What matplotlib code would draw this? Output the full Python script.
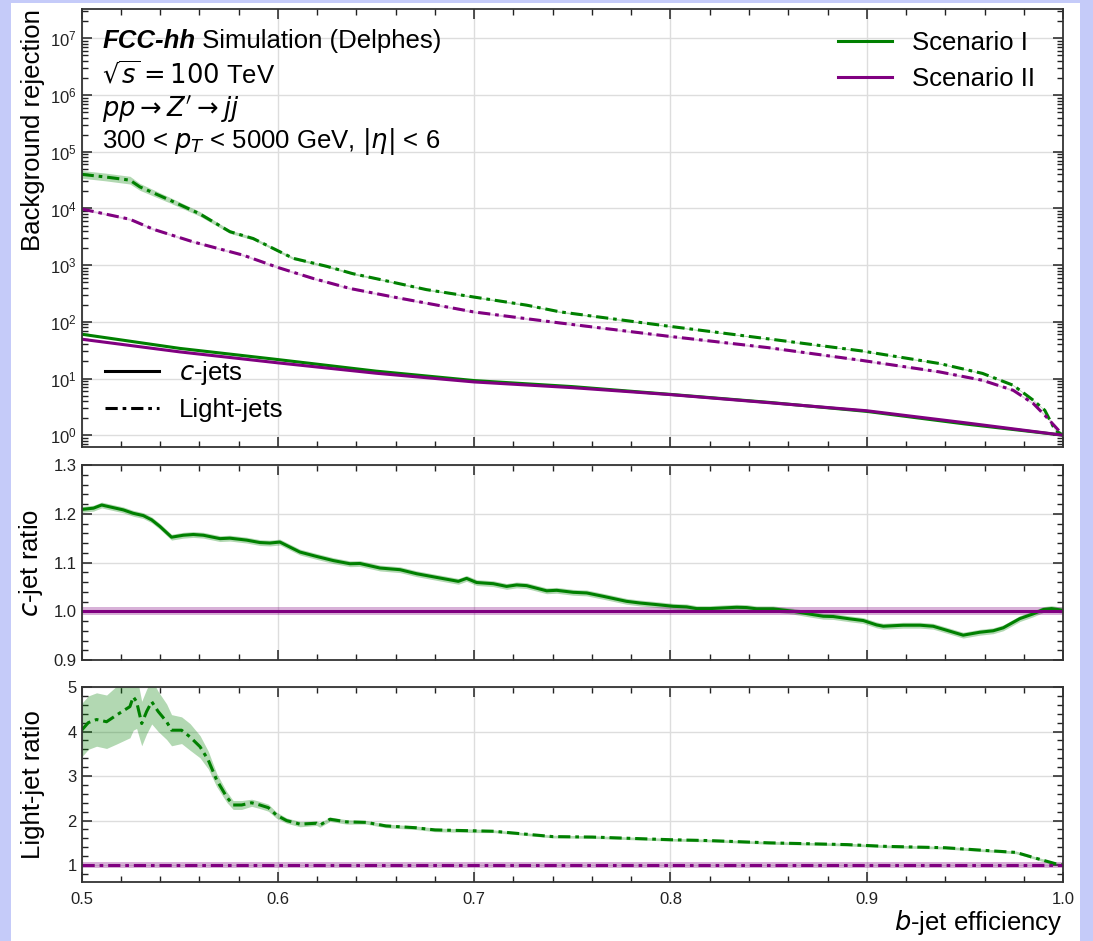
import matplotlib
matplotlib.use("Agg")
import matplotlib.pyplot as plt
import numpy as np
from matplotlib.ticker import MultipleLocator, LogLocator, NullFormatter
from matplotlib.patches import Rectangle
from matplotlib.lines import Line2D

plt.rcParams["font.family"] = ["Liberation Sans", "DejaVu Sans"]
plt.rcParams["mathtext.fontset"] = "dejavusans"

# ── Data ──────────────────────────────────────────────────────────────────────
# light-jet rejection, Scenario I (green) / Scenario II (purple)
eff_l1 = [0.500, 0.512, 0.5246, 0.5297, 0.545, 0.560, 0.5755, 0.5874, 0.596,
          0.6078, 0.6248, 0.638, 0.6535, 0.6757, 0.6995, 0.7267, 0.7437, 0.7988,
          0.850, 0.897, 0.937, 0.959, 0.9746, 0.9848, 0.9907, 0.996, 1.0]
rej_l1 = [40000, 36000, 31600, 24000, 14000, 8100, 3900, 2950, 2100,
          1320, 955, 710, 545, 370, 275, 197, 150, 84,
          50, 30.8, 18.4, 12.3, 7.6, 4.15, 2.75, 1.22, 1.0]
rel_l1 = [0.17, 0.17, 0.17, 0.15, 0.12, 0.10, 0.07, 0.06, 0.05,
          0.05, 0.04, 0.04, 0.03, 0.03, 0.03, 0.03, 0.03, 0.02,
          0.02, 0.02, 0.02, 0.02, 0.02, 0.02, 0.02, 0.02, 0.02]

eff_l2 = [0.500, 0.5246, 0.5365, 0.5569, 0.5823, 0.600, 0.618, 0.6367, 0.6587,
          0.6995, 0.7437, 0.7988, 0.850, 0.897, 0.937, 0.959, 0.9746, 0.9848,
          0.9907, 1.0]
rej_l2 = [9800, 6450, 4300, 2570, 1500, 910, 582, 388, 275,
          150, 95.5, 55.8, 35, 21, 13.1, 9.3, 6.2, 3.63,
          2.25, 1.0]

# c-jet rejection
eff_c = [0.50, 0.55, 0.60, 0.65, 0.70, 0.75, 0.80, 0.85, 0.90, 0.95, 1.00]
rej_c1 = [60.5, 34.0, 21.6, 13.5, 9.2, 7.2, 5.25, 3.8, 2.63, 1.58, 1.0]
rej_c2 = [49.4, 29.5, 18.9, 12.4, 8.7, 6.9, 5.2, 3.75, 2.7, 1.66, 1.0]

# c-jet ratio (Scenario I / Scenario II)
eff_cr = [0.500, 0.506, 0.5102, 0.516, 0.5212, 0.5263, 0.5314, 0.5357, 0.5399,
          0.5458, 0.5518, 0.5569, 0.562, 0.5705, 0.5755, 0.584, 0.5908, 0.5959,
          0.601, 0.6061, 0.6112, 0.6197, 0.6282, 0.6367, 0.6418, 0.652, 0.6622,
          0.6707, 0.6808, 0.6919, 0.6961, 0.7012, 0.7097, 0.7165, 0.7216, 0.7267,
          0.7369, 0.742, 0.7504, 0.7573, 0.7657, 0.7776, 0.7844, 0.7929, 0.8014,
          0.8082, 0.8133, 0.820, 0.8337, 0.8388, 0.8439, 0.8523, 0.8625, 0.8693,
          0.8778, 0.8829, 0.8914, 0.8982, 0.905, 0.9084, 0.9186, 0.9271, 0.9338,
          0.9491, 0.9576, 0.9644, 0.9695, 0.978, 0.9848, 0.9899, 0.9941, 1.0]
cratio1 = [1.209, 1.2115, 1.218, 1.2127, 1.208, 1.201, 1.1963, 1.1875, 1.174,
           1.152, 1.156, 1.1575, 1.156, 1.149, 1.150, 1.146, 1.141, 1.140,
           1.142, 1.1317, 1.1215, 1.1125, 1.104, 1.0975, 1.098, 1.0887, 1.0853,
           1.077, 1.0695, 1.0614, 1.0675, 1.059, 1.0566, 1.051, 1.054, 1.0526,
           1.042, 1.043, 1.0389, 1.0376, 1.0307, 1.0204, 1.017, 1.0137, 1.0102,
           1.009, 1.0055, 1.0055, 1.0082, 1.0076, 1.005, 1.005, 1.0, 0.9953,
           0.9898, 0.9892, 0.9844, 0.981, 0.972, 0.9693, 0.9714, 0.9714, 0.9693,
           0.951, 0.957, 0.960, 0.966, 0.985, 0.9947, 1.0035, 1.0055, 1.002]
cratio_err = 0.006
cratio2_err = 0.008

# light-jet ratio (Scenario I / Scenario II)
eff_lr = [0.500, 0.5034, 0.5076, 0.5127, 0.5178, 0.5246, 0.5263, 0.528, 0.5306,
          0.5331, 0.5357, 0.539, 0.5433, 0.5458, 0.5509, 0.5552, 0.5603, 0.5645,
          0.5688, 0.5739, 0.5772, 0.5815, 0.5866, 0.5908, 0.5951, 0.5993, 0.6044,
          0.6112, 0.6197, 0.6214, 0.6265, 0.635, 0.645, 0.655, 0.670, 0.680,
          0.700, 0.710, 0.720, 0.740, 0.760, 0.780, 0.800, 0.820, 0.850, 0.870,
          0.890, 0.910, 0.940, 0.960, 0.976, 0.9865, 0.997, 1.0]
lratio1 = [4.03, 4.20, 4.27, 4.22, 4.37, 4.56, 4.78, 4.67, 4.18,
           4.45, 4.67, 4.45, 4.22, 4.03, 4.03, 3.88, 3.66, 3.36,
           2.91, 2.53, 2.35, 2.35, 2.40, 2.35, 2.29, 2.12, 2.00,
           1.92, 1.94, 1.90, 2.03, 1.97, 1.96, 1.88, 1.84, 1.79,
           1.77, 1.76, 1.72, 1.64, 1.63, 1.60, 1.57, 1.55, 1.50, 1.48,
           1.46, 1.42, 1.39, 1.33, 1.285, 1.15, 1.02, 1.0]
lratio1_err = [0.60, 0.60, 0.60, 0.60, 0.65, 0.70, 0.75, 0.60, 0.50,
               0.50, 0.50, 0.45, 0.40, 0.35, 0.30, 0.30, 0.25, 0.20,
               0.15, 0.12, 0.10, 0.10, 0.08, 0.08, 0.08, 0.07, 0.06,
               0.06, 0.05, 0.05, 0.05, 0.05, 0.04, 0.04, 0.04, 0.04,
               0.04, 0.03, 0.03, 0.03, 0.03, 0.03, 0.03, 0.03, 0.03, 0.03,
               0.03, 0.03, 0.03, 0.03, 0.03, 0.03, 0.03, 0.03]
lratio2_err = 0.075

GREEN = "#008000"
PURPLE = "#800080"
DASHDOT = (0, (4, 1.6, 1.2, 1.6))
LW = 2.2
FS = 18.5

# ── Figure ────────────────────────────────────────────────────────────────────
fig = plt.figure(figsize=(10.93, 9.41), dpi=100, facecolor="#c5cbf9")
fig.patches.append(Rectangle((0.0101, 0.0), 0.9779, 0.9968, transform=fig.transFigure,
                             facecolor="white", edgecolor="none", zorder=-10))

left, width = 0.0747, 0.8979
ax1 = fig.add_axes([left, 0.5250, width, 0.4654])
ax2 = fig.add_axes([left, 0.2986, width, 0.2072], sharex=ax1)
ax3 = fig.add_axes([left, 0.0627, width, 0.2072], sharex=ax1)

# top panel: rejections
e1, r1, s1 = np.array(eff_l1), np.array(rej_l1), np.array(rel_l1)
ax1.fill_between(e1, r1 / (1 + s1), r1 * (1 + s1), color=GREEN, alpha=0.3, lw=0)
ax1.plot(e1, r1, color=GREEN, lw=LW, ls=DASHDOT)
r2 = np.array(rej_l2)
ax1.fill_between(eff_l2, r2 / 1.04, r2 * 1.04, color=PURPLE, alpha=0.2, lw=0)
ax1.plot(eff_l2, r2, color=PURPLE, lw=LW, ls=DASHDOT)
ax1.plot(eff_c, rej_c1, color=GREEN, lw=LW)
ax1.plot(eff_c, rej_c2, color=PURPLE, lw=LW)
ax1.set_yscale("log")
ax1.set_ylim(0.62, 3.3e7)
ax1.yaxis.set_major_locator(LogLocator(base=10, numticks=20))
ax1.yaxis.set_minor_locator(LogLocator(base=10, subs=np.arange(2, 10), numticks=50))
ax1.yaxis.set_minor_formatter(NullFormatter())
ax1.set_ylabel("Background rejection", fontsize=FS, loc="top")

# middle panel: c-jet ratio
cr = np.array(cratio1)
ax2.fill_between(eff_cr, cr - cratio_err, cr + cratio_err, color=GREEN, alpha=0.3, lw=0)
ax2.plot(eff_cr, cr, color=GREEN, lw=LW)
ax2.axhspan(1 - cratio2_err, 1 + cratio2_err, color=PURPLE, alpha=0.3, lw=0)
ax2.axhline(1.0, color=PURPLE, lw=LW)
ax2.set_ylim(0.9, 1.3)
ax2.yaxis.set_major_locator(MultipleLocator(0.1))
ax2.yaxis.set_minor_locator(MultipleLocator(0.02))
ax2.set_ylabel("$c$-jet ratio", fontsize=FS)

# bottom panel: light-jet ratio
lr, le = np.array(lratio1), np.array(lratio1_err)
ax3.fill_between(eff_lr, lr - le, lr + le, color=GREEN, alpha=0.3, lw=0)
ax3.plot(eff_lr, lr, color=GREEN, lw=LW, ls=DASHDOT)
ax3.axhspan(1 - lratio2_err, 1 + lratio2_err, color=PURPLE, alpha=0.3, lw=0)
ax3.axhline(1.0, color=PURPLE, lw=LW, ls=DASHDOT)
ax3.set_ylim(0.62, 5)
ax3.yaxis.set_major_locator(MultipleLocator(1))
ax3.yaxis.set_minor_locator(MultipleLocator(0.2))
ax3.set_ylabel("Light-jet ratio", fontsize=FS)

ax3.set_xlim(0.5, 1.0)
ax3.xaxis.set_major_locator(MultipleLocator(0.1))
ax3.xaxis.set_minor_locator(MultipleLocator(0.02))
ax3.set_xlabel("$b$-jet efficiency", fontsize=FS, loc="right", labelpad=1)

for ax in (ax1, ax2, ax3):
    ax.grid(True, which="major", color="#dddddd", lw=1)
    ax.set_axisbelow(True)
    ax.tick_params(which="both", direction="in", top=True, right=True,
                   labelsize=12, colors="#222222")
    ax.tick_params(which="major", length=7, width=1.1)
    ax.tick_params(which="minor", length=4, width=1)
    ax.tick_params(axis="x", which="major", pad=7)
    for sp in ax.spines.values():
        sp.set_color("#333333")
        sp.set_linewidth(1.3)
ax1.yaxis.set_label_coords(-0.037, 1.0)
ax2.yaxis.set_label_coords(-0.037, 0.5)
ax3.yaxis.set_label_coords(-0.037, 0.5)
for ax in (ax1, ax2):
    ax.tick_params(labelbottom=False)

# text block
lines = ["$\\sqrt{s} = 100$ TeV", "$pp \\rightarrow Z' \\rightarrow jj$",
         "300 < $p_T$ < 5000 GeV, $|\\eta|$ < 6"]
t0 = ax1.text(0.021, 0.927, "FCC-hh", transform=ax1.transAxes, fontsize=FS,
              fontweight="bold", fontstyle="italic", va="center")
ax1.annotate(" Simulation (Delphes)", xy=(1, 0.5), xycoords=t0, fontsize=FS,
             va="center")
for i, s in enumerate(lines):
    ax1.text(0.021, 0.927 - 0.0765 * (i + 1), s, transform=ax1.transAxes,
             fontsize=FS, va="center")

# legends
scen = [Line2D([], [], color=GREEN, lw=LW), Line2D([], [], color=PURPLE, lw=LW)]
leg1 = ax1.legend(scen, ["Scenario I", "Scenario II"], loc="upper right",
                  bbox_to_anchor=(0.99, 0.99), frameon=False, fontsize=FS,
                  handlelength=2.1, labelspacing=0.45, borderaxespad=0.3)
ax1.add_artist(leg1)
kinds = [Line2D([], [], color="black", lw=LW),
         Line2D([], [], color="black", lw=LW, ls=DASHDOT)]
ax1.legend(kinds, ["$c$-jets", "Light-jets"], loc="lower left",
           bbox_to_anchor=(0.0, 0.005), frameon=False, fontsize=FS,
           handlelength=2.1, labelspacing=0.4, borderaxespad=0.5)

fig.savefig("out.png", dpi=100, facecolor=fig.get_facecolor())
